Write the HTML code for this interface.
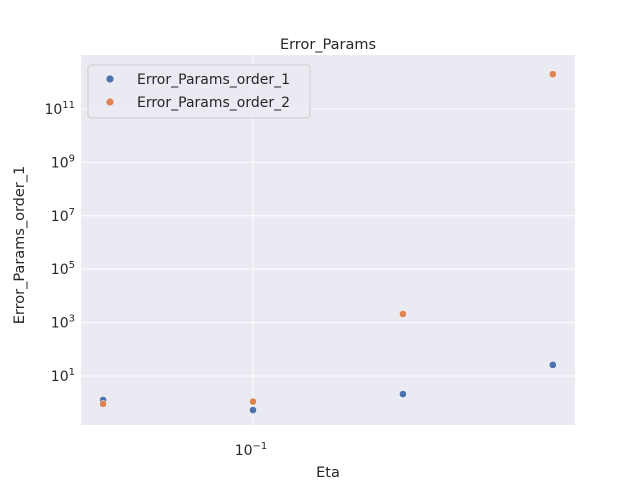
<!DOCTYPE html>
<html><head><meta charset="utf-8"><style>
body{margin:0;background:#fff;}
svg text{font-family:"DejaVu Sans","Liberation Sans",sans-serif;fill:#262626;}
</style></head><body>
<svg id="c" width="640" height="480"></svg>
<script>
const etas=[0.05,0.1,0.2,0.4];
const order1=[1.26,0.53,2.1,26];
const order2=[0.9,1.1,2100,2.0e12];
const yTickExps=[1,3,5,7,9,11];
const seriesNames=["Error_Params_order_1","Error_Params_order_2"];
const colors=["#4c72b0","#dd8452"];
const L=81,R=575,T=55,B=425;
const xDec=498, x0=253;
function X(v){return x0+Math.log10(v/0.1)*xDec;}
const yMinE=-0.835,yMaxE=13.02;
function Y(v){return B-(Math.log10(v)-yMinE)/(yMaxE-yMinE)*(B-T);}
const svg=document.getElementById('c');const NS='http://www.w3.org/2000/svg';
function el(t,a,p){const e=document.createElementNS(NS,t);for(const k in a)e.setAttribute(k,a[k]);(p||svg).appendChild(e);return e;}
const bg=el('rect',{x:L,y:T,width:R-L,height:B-T,fill:'#eaeaf2'});


yTickExps.forEach(e=>{const y=Y(Math.pow(10,e));
const g=el('line',{x1:L,x2:R,y1:y,y2:y,stroke:'#fff','stroke-width':1});


const t=el('text',{x:L-6,y:y+5,'text-anchor':'end','font-size':14});


t.innerHTML='10<tspan dy="-6" font-size="10">'+e+'</tspan>';});
{const x=X(0.1);
const g=el('line',{x1:x,x2:x,y1:T,y2:B,stroke:'#fff','stroke-width':1});


const t=el('text',{x:x-2,y:B+30,'text-anchor':'middle','font-size':14});


t.innerHTML='10<tspan dy="-6" font-size="10">−1</tspan>';}
[order1,order2].forEach((s,i)=>{s.forEach((v,j)=>{
const c=el('circle',{cx:X(etas[j]),cy:Y(v),r:3.6,fill:colors[i],stroke:'#fff','stroke-width':0.5});

});});
const tt=el('text',{x:328,y:49,'text-anchor':'middle','font-size':14.5});tt.textContent='Error_Params';


const xt=el('text',{x:328,y:477,'text-anchor':'middle','font-size':14.5});xt.textContent='Eta';


const yt=el('text',{x:24,y:245,'text-anchor':'middle','font-size':14.5,transform:'rotate(-90 24 245)'});yt.textContent='Error_Params_order_1';


const lg=el('rect',{x:88,y:65,width:222,height:53,rx:3,fill:'#eaeaf2',stroke:'#ccc','stroke-width':1,'fill-opacity':0.8});


seriesNames.forEach((n,i)=>{const y=79+i*23;
const d=el('circle',{cx:110,cy:y,r:3.6,fill:colors[i]});


const t=el('text',{x:137,y:y+5,'font-size':14});t.textContent=n;

});
</script>
</body></html>
